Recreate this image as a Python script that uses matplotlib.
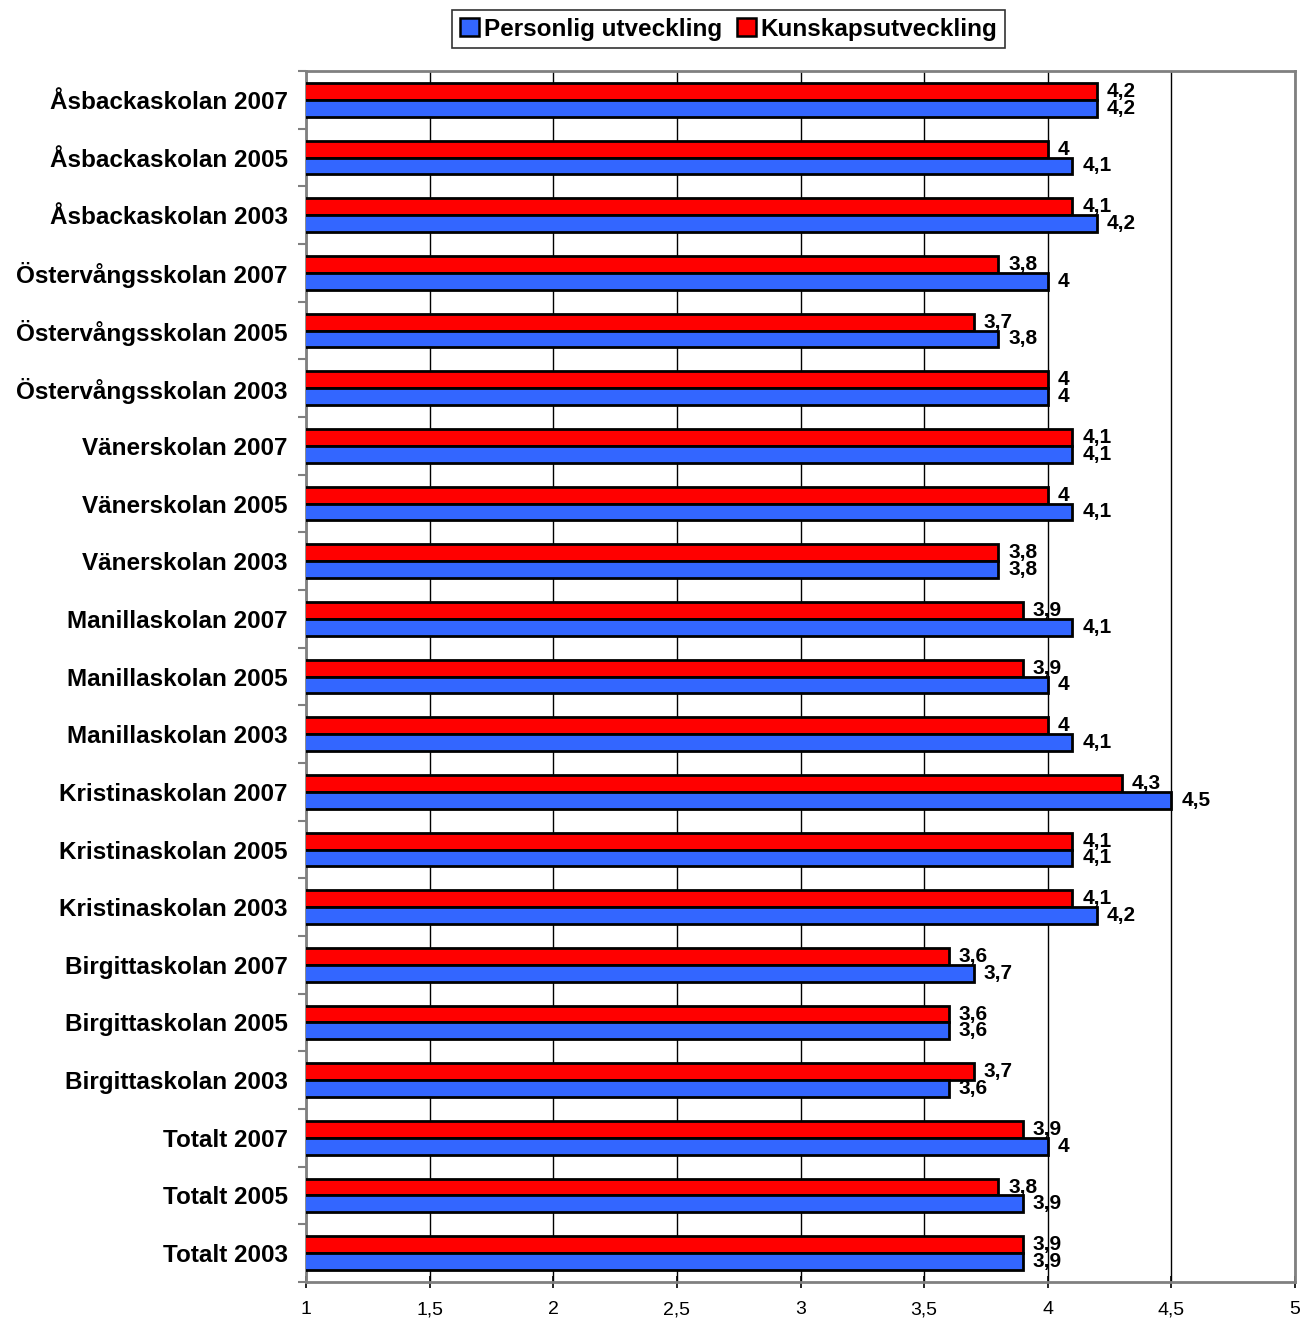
import numpy as np
import matplotlib.pyplot as plt
from matplotlib.patches import Patch

plt.rcParams['font.family'] = ['Liberation Sans', 'DejaVu Sans']

categories = [
    "Åsbackaskolan 2007", "Åsbackaskolan 2005", "Åsbackaskolan 2003",
    "Östervångsskolan 2007", "Östervångsskolan 2005", "Östervångsskolan 2003",
    "Vänerskolan 2007", "Vänerskolan 2005", "Vänerskolan 2003",
    "Manillaskolan 2007", "Manillaskolan 2005", "Manillaskolan 2003",
    "Kristinaskolan 2007", "Kristinaskolan 2005", "Kristinaskolan 2003",
    "Birgittaskolan 2007", "Birgittaskolan 2005", "Birgittaskolan 2003",
    "Totalt 2007", "Totalt 2005", "Totalt 2003",
]
personlig = [4.2, 4.1, 4.2, 4.0, 3.8, 4.0, 4.1, 4.1, 3.8, 4.1, 4.0, 4.1,
             4.5, 4.1, 4.2, 3.7, 3.6, 3.6, 4.0, 3.9, 3.9]
kunskap = [4.2, 4.0, 4.1, 3.8, 3.7, 4.0, 4.1, 4.0, 3.8, 3.9, 3.9, 4.0,
           4.3, 4.1, 4.1, 3.6, 3.6, 3.7, 3.9, 3.8, 3.9]
xticks = [1, 1.5, 2, 2.5, 3, 3.5, 4, 4.5, 5]

def fmt(v):
    s = ("%.1f" % v).rstrip("0").rstrip(".")
    return s.replace(".", ",")

fig = plt.figure(figsize=(13.04, 13.23), dpi=100)
ax = fig.add_axes([0.2347, 0.031, 0.7584, 0.9153])

n = len(categories)
y = np.arange(n)
h = 0.29
blue = "#3366ff"
red = "#ff0000"

# red (Kunskap) above, blue (Personlig) below within each group
ax.barh(y - h / 2, kunskap, height=h, left=0, color=red, edgecolor="black", linewidth=2, zorder=3)
ax.barh(y + h / 2, personlig, height=h, left=0, color=blue, edgecolor="black", linewidth=2, zorder=3)

for i in range(n):
    ax.text(kunskap[i] + 0.04, y[i] - h / 2, fmt(kunskap[i]), va="center", ha="left",
            fontsize=15, fontweight="bold", zorder=4)
    ax.text(personlig[i] + 0.04, y[i] + h / 2, fmt(personlig[i]), va="center", ha="left",
            fontsize=15, fontweight="bold", zorder=4)

ax.set_xlim(1, 5)
ax.set_ylim(n - 0.5, -0.5)
ax.set_xticks(xticks)
ax.set_xticklabels([fmt(t) for t in xticks], fontsize=14)
ax.set_yticks(np.arange(n + 1) - 0.5, minor=False)
ax.set_yticklabels([])
ax.set_yticks(y, minor=True)
ax.set_yticklabels(categories, minor=True, fontsize=17.5, fontweight="bold")
ax.tick_params(axis="y", which="minor", length=0, pad=13)
ax.tick_params(axis="y", which="major", length=6, direction="out", color="#808080", width=1.5)
ax.tick_params(axis="x", length=8, direction="inout", width=1.2, pad=10)

ax.grid(axis="x", color="black", linewidth=1, zorder=0)
for s in ax.spines.values():
    s.set_color("#808080")
    s.set_linewidth(2)

handles = [Patch(facecolor=blue, edgecolor="black", linewidth=1.8, label="Personlig utveckling"),
           Patch(facecolor=red, edgecolor="black", linewidth=1.8, label="Kunskapsutveckling")]
leg = fig.legend(handles=handles, loc="center", bbox_to_anchor=(0.5587, 0.978), ncol=2,
                 prop={"size": 17.5, "weight": "bold"}, frameon=True, fancybox=False,
                 handlelength=0.8, handleheight=0.8, handletextpad=0.2, columnspacing=0.6,
                 borderpad=0.3)
leg.get_frame().set_edgecolor("black")
leg.get_frame().set_linewidth(1.2)

fig.savefig("out.png", dpi=100)
